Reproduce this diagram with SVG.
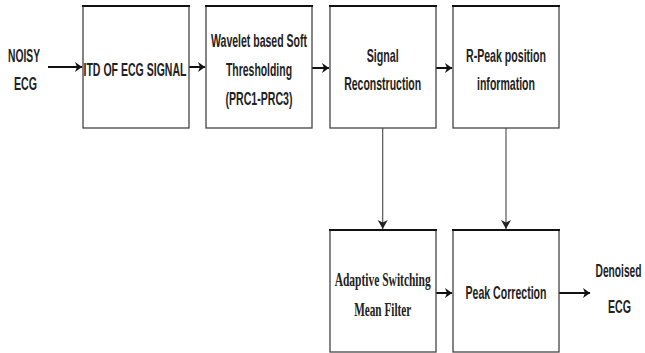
<svg xmlns="http://www.w3.org/2000/svg" width="645" height="353" viewBox="0 0 645 353">
<style>
.box{fill:#fff;stroke:#444;stroke-width:1.3}
.top{stroke:#111;stroke-width:2}
.t{font-family:"Liberation Sans Narrow","Liberation Sans",Arial,sans-serif;font-weight:bold;font-size:19px;fill:#222;text-anchor:middle}
.s{font-family:"Liberation Serif","Times New Roman",serif;font-weight:bold;font-size:19px;fill:#222;text-anchor:middle}
.a{stroke:#111;stroke-width:2;fill:none}
.v{stroke:#555;stroke-width:1.2;fill:none}
</style>
<defs>
<marker id="ah" markerWidth="8" markerHeight="10" refX="7" refY="5" orient="auto" markerUnits="userSpaceOnUse">
<path d="M0,0 L7,5 L0,10 L2,5 Z" fill="#111"/>
</marker>
<marker id="av" markerWidth="10" markerHeight="12" refX="9" refY="5" orient="auto" markerUnits="userSpaceOnUse">
<path d="M0,0 L9,5 L0,10 L2.5,5 Z" fill="#222"/>
</marker>
</defs>
<rect width="645" height="353" fill="#fff"/>
<g id="connectors">
<line class="a" x1="48" y1="67" x2="82" y2="67" marker-end="url(#ah)"/>
<line class="a" x1="189" y1="67" x2="205" y2="67" marker-end="url(#ah)"/>
<line class="a" x1="312" y1="68" x2="329" y2="68" marker-end="url(#ah)"/>
<line class="a" x1="436" y1="68" x2="452" y2="68" marker-end="url(#ah)"/>
<line class="v" x1="382.7" y1="128" x2="382.7" y2="229" marker-end="url(#av)"/>
<line class="v" x1="506" y1="128" x2="506" y2="229" marker-end="url(#av)"/>
<line class="a" x1="436" y1="293" x2="452" y2="293" marker-end="url(#ah)"/>
<line class="a" x1="559" y1="293" x2="590" y2="293" marker-end="url(#ah)"/>
</g>
<g id="noisy">
<text class="t" x="24" y="61.5" textLength="32" lengthAdjust="spacingAndGlyphs">NOISY</text>
<text class="t" x="25.5" y="89.5" textLength="23" lengthAdjust="spacingAndGlyphs">ECG</text>
</g>
<g id="itd">
<rect class="box" x="83" y="6" width="106" height="122"/>
<line class="top" x1="82" y1="6" x2="190" y2="6"/>
<text class="t" x="135" y="75.5" textLength="103" lengthAdjust="spacingAndGlyphs">ITD OF ECG SIGNAL</text>
</g>
<g id="wavelet">
<rect class="box" x="206" y="6" width="106" height="122"/>
<line class="top" x1="205" y1="6" x2="313" y2="6"/>
<text class="t" x="259" y="46.5" textLength="96" lengthAdjust="spacingAndGlyphs">Wavelet based Soft</text>
<text class="t" x="259" y="75.5" textLength="66" lengthAdjust="spacingAndGlyphs">Thresholding</text>
<text class="t" x="259" y="104.5" textLength="67" lengthAdjust="spacingAndGlyphs">(PRC1-PRC3)</text>
</g>
<g id="reconstruction">
<rect class="box" x="330" y="6" width="106" height="122"/>
<line class="top" x1="329" y1="6" x2="437" y2="6"/>
<text class="t" x="382.7" y="61.5" textLength="32" lengthAdjust="spacingAndGlyphs">Signal</text>
<text class="t" x="382.7" y="90" textLength="77" lengthAdjust="spacingAndGlyphs">Reconstruction</text>
</g>
<g id="rpeak">
<rect class="box" x="453" y="6" width="106" height="122"/>
<line class="top" x1="452" y1="6" x2="560" y2="6"/>
<text class="t" x="506" y="61.5" textLength="80" lengthAdjust="spacingAndGlyphs">R-Peak position</text>
<text class="t" x="506" y="90" textLength="58" lengthAdjust="spacingAndGlyphs">information</text>
</g>
<g id="asmf">
<rect class="box" x="330" y="230" width="106" height="122"/>
<line class="top" x1="329" y1="230" x2="437" y2="230"/>
<text class="s" x="382.7" y="286" textLength="96" lengthAdjust="spacingAndGlyphs">Adaptive Switching</text>
<text class="s" x="382.7" y="316" textLength="57" lengthAdjust="spacingAndGlyphs">Mean Filter</text>
</g>
<g id="peakcorr">
<rect class="box" x="453" y="230" width="106" height="122"/>
<line class="top" x1="452" y1="230" x2="560" y2="230"/>
<text class="t" x="506" y="299" textLength="81" lengthAdjust="spacingAndGlyphs">Peak Correction</text>
</g>
<g id="denoised">
<text class="t" x="618.5" y="277" textLength="46" lengthAdjust="spacingAndGlyphs">Denoised</text>
<text class="t" x="619.5" y="313" textLength="23" lengthAdjust="spacingAndGlyphs">ECG</text>
</g>
</svg>
